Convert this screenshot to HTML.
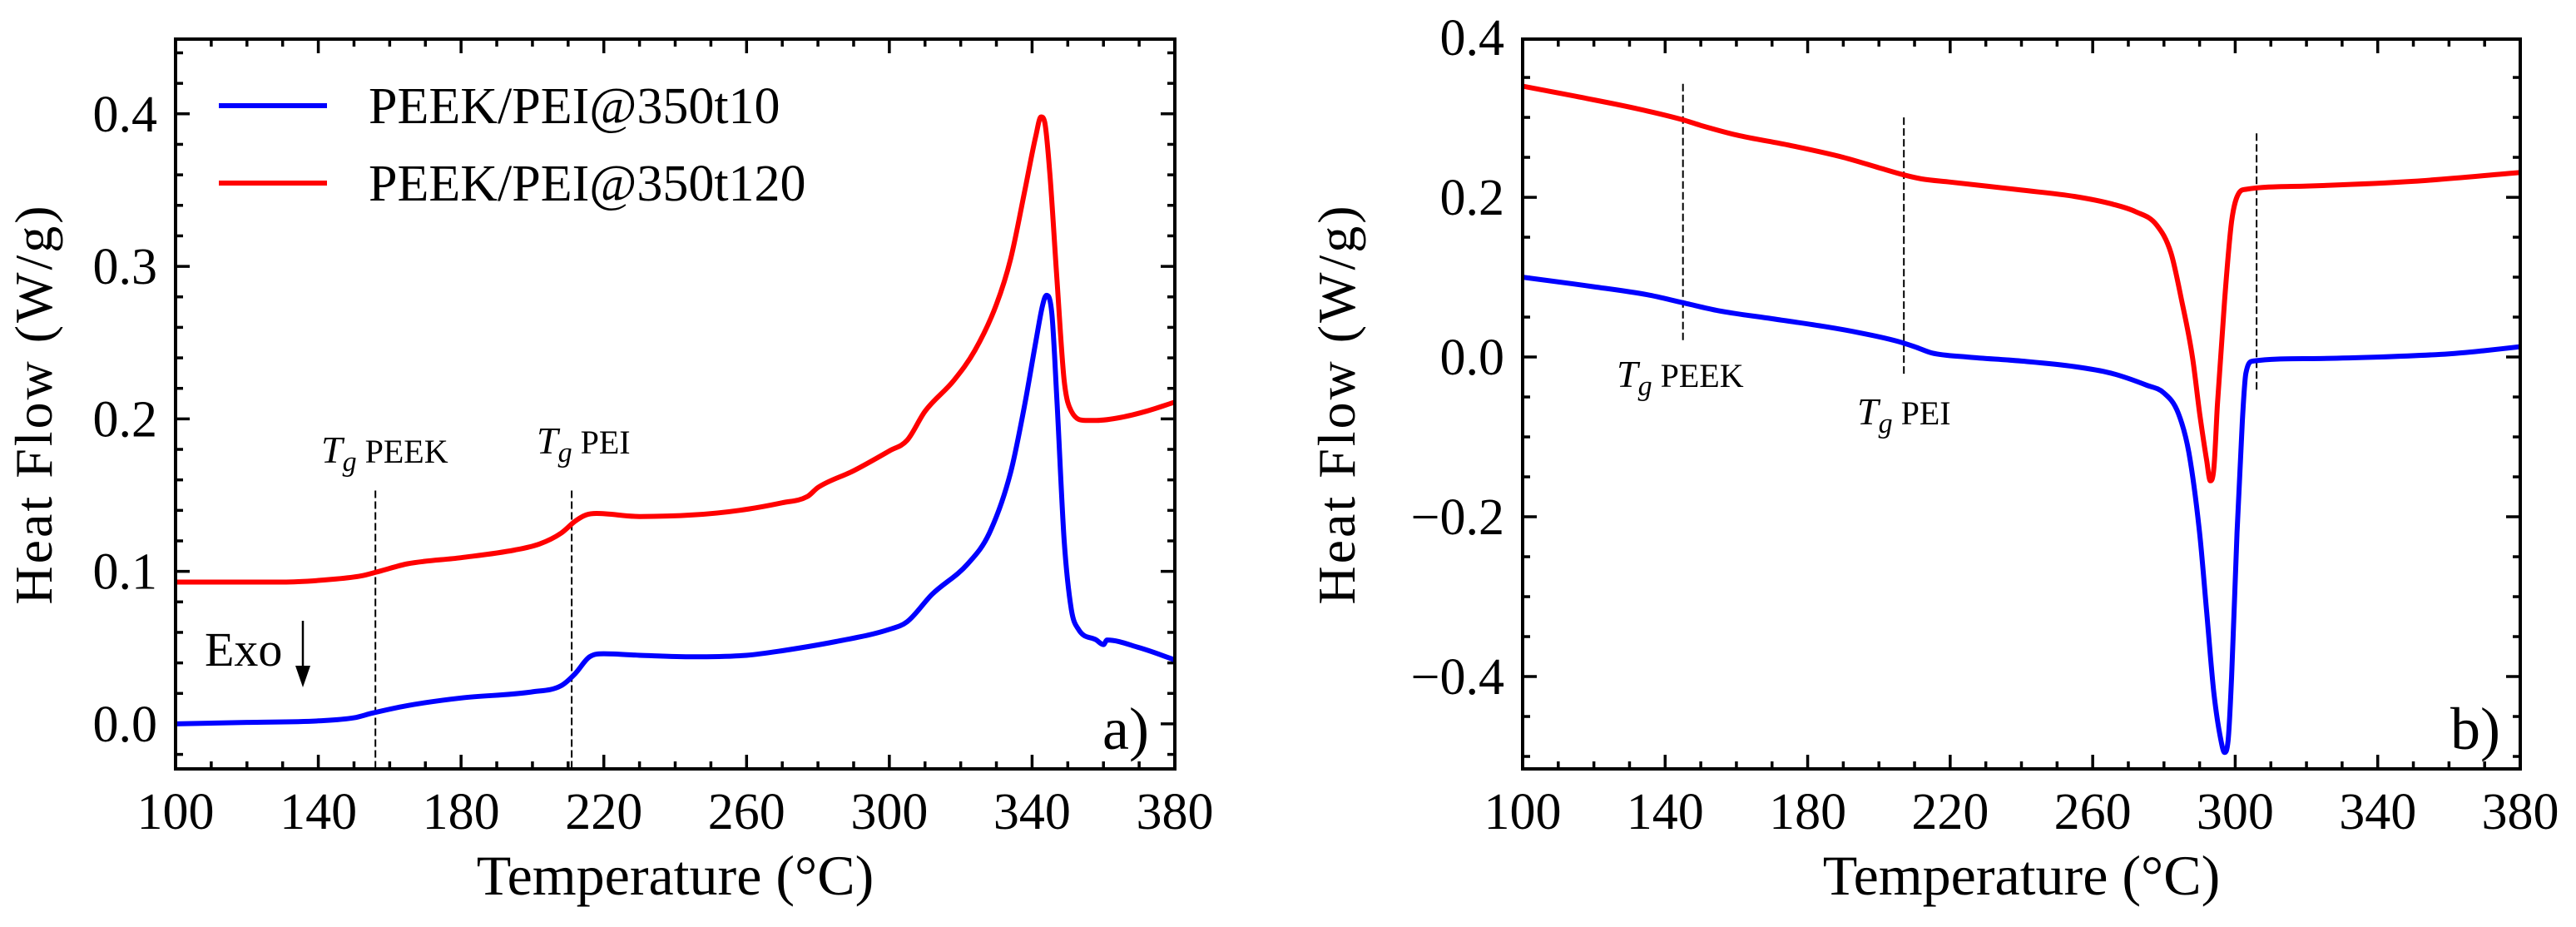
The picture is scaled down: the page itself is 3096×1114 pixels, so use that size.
<!DOCTYPE html>
<html><head><meta charset="utf-8"><style>
html,body{margin:0;padding:0;background:#fff;}
svg{display:block;font-family:"Liberation Serif",serif;}
</style></head><body>
<svg id="fig" width="3096" height="1114" viewBox="0 0 3096 1114" xmlns="http://www.w3.org/2000/svg"></svg>
<script>
// Panel a data
const aBlueT = [100,120,140,150,155,165,180,200,208,212,216,220,230,245,260,270,285,300,305,312,322,328,334,338,341,343,344,345.5,347,349,351,353,358,360,361,370,380];
const aBlueV = [0.0,0.001,0.002,0.004,0.007,0.012,0.017,0.021,0.025,0.033,0.044,0.046,0.045,0.044,0.045,0.048,0.054,0.062,0.067,0.085,0.105,0.125,0.165,0.21,0.25,0.275,0.281,0.27,0.21,0.12,0.075,0.062,0.055,0.052,0.055,0.05,0.042];
const aRedT = [100,130,145,152,157,165,180,195,202,208,212,215,218,230,245,258,270,277,280,290,300,305,310,318,324,330,334,338,341,342.5,343.5,345,347,349,351,355,358,365,372,380];
const aRedV = [0.093,0.093,0.095,0.097,0.100,0.105,0.109,0.114,0.118,0.125,0.133,0.137,0.138,0.136,0.137,0.140,0.145,0.149,0.155,0.166,0.179,0.186,0.205,0.225,0.245,0.275,0.305,0.35,0.385,0.398,0.395,0.36,0.29,0.225,0.205,0.199,0.199,0.201,0.205,0.211];
// Panel b data
const bRedT = [100,120,135,145,150,160,175,190,200,207,212,220,240,255,265,272,278,282,285,288,290,292,293,294,295,297,299,301,303,320,350,380];
const bRedV = [0.339,0.322,0.308,0.297,0.290,0.278,0.265,0.250,0.237,0.228,0.223,0.219,0.209,0.201,0.192,0.182,0.165,0.13,0.07,0.0,-0.07,-0.13,-0.155,-0.14,-0.06,0.07,0.17,0.205,0.21,0.214,0.22,0.231];
const bBlueT = [100,120,135,145,155,170,185,195,205,210,215,225,240,255,265,275,280,284,287,290,292,294,296,297,298,299,300.5,302,303,305,320,340,360,370,380];
const bBlueV = [0.100,0.088,0.078,0.068,0.058,0.048,0.038,0.030,0.020,0.013,0.005,0.0,-0.005,-0.012,-0.02,-0.035,-0.045,-0.07,-0.12,-0.22,-0.32,-0.42,-0.48,-0.495,-0.48,-0.40,-0.22,-0.08,-0.02,-0.005,-0.002,0.0,0.004,0.008,0.013];
const xTicks = [100,140,180,220,260,300,340,380];
const aYTicks = [0.0,0.1,0.2,0.3,0.4];
const bYTicks = [-0.4,-0.2,0.0,0.2,0.4];

const NS = "http://www.w3.org/2000/svg";
const svg = document.getElementById('fig');
function mk(tag, attrs, parent, text){
  const e = document.createElementNS(NS, tag);
  for (const k in attrs) e.setAttribute(k, attrs[k]);
  if (text !== undefined) e.textContent = text;
  (parent||svg).appendChild(e);
  return e;
}
function fmt(v){ const s = Math.abs(v).toFixed(1); return (v < -1e-9 ? '\u2212' : '') + s; }

// monotone cubic path through pixel points
function smoothPath(xs, ys){
  const n = xs.length, d = [], m = [];
  for (let i=0;i<n-1;i++) d.push((ys[i+1]-ys[i])/(xs[i+1]-xs[i]));
  m.push(d[0]);
  for (let i=1;i<n-1;i++) m.push(d[i-1]*d[i]<=0 ? 0 : (d[i-1]+d[i])/2);
  m.push(d[n-2]);
  for (let i=0;i<n-1;i++){
    if (d[i]===0){ m[i]=0; m[i+1]=0; continue; }
    const a=m[i]/d[i], b=m[i+1]/d[i], s=a*a+b*b;
    if (s>9){ const t=3/Math.sqrt(s); m[i]=t*a*d[i]; m[i+1]=t*b*d[i]; }
  }
  let p = 'M'+xs[0].toFixed(1)+','+ys[0].toFixed(1);
  for (let i=0;i<n-1;i++){
    const h=(xs[i+1]-xs[i])/3;
    p += ' C'+(xs[i]+h).toFixed(1)+','+(ys[i]+m[i]*h).toFixed(1)+' '+(xs[i+1]-h).toFixed(1)+','+(ys[i+1]-m[i+1]*h).toFixed(1)+' '+xs[i+1].toFixed(1)+','+ys[i+1].toFixed(1);
  }
  return p;
}

function panel(cfg){
  const g = mk('g', {});
  
  
  const L=cfg.L,R=cfg.R,T=cfg.T,B=cfg.B;
  const sx = t => L + (t-100)/(380-100)*(R-L);
  const sy = v => B - (v-cfg.ymin)/(cfg.ymax-cfg.ymin)*(B-T);
  const tk = mk('g', {stroke:'#000','stroke-width':3.5}, g);
  
  
  for (let t=100; t<=380; t+=10){
    const len = (t-100)%40===0 ? 17 : 9;
    const x = sx(t);
    mk('line',{x1:x,x2:x,y1:B,y2:B-len},tk);
    mk('line',{x1:x,x2:x,y1:T,y2:T+len},tk);
  }
  const start = Math.ceil(cfg.ymin/cfg.minor-1e-6)*cfg.minor;
  for (let v=start; v<=cfg.ymax+1e-9; v+=cfg.minor){
    const isMaj = cfg.yTicks.some(m=>Math.abs(m-v)<1e-6);
    const len = isMaj?17:9;
    const y = sy(v);
    mk('line',{x1:L,x2:L+len,y1:y,y2:y},tk);
    mk('line',{x1:R,x2:R-len,y1:y,y2:y},tk);
  }
  xTicks.forEach(t=>{
    const e = mk('text',{x:sx(t),y:B+72,'font-size':62,'text-anchor':'middle'},g,String(t));
    
    
  });
  cfg.yTicks.forEach(v=>{
    const e = mk('text',{x:L-22,y:sy(v)+21,'font-size':62,'text-anchor':'end'},g,fmt(v));
    
    
  });
  cfg.marks.forEach(m=>{
    const e = mk('line',{x1:sx(m[0]),x2:sx(m[0]),y1:sy(m[1]),y2:sy(m[2]),stroke:'#000','stroke-width':2,'stroke-dasharray':'9,4'},g);
    
    
  });
  cfg.series.forEach(s=>{
    const d = smoothPath(s.t.map(sx), s.v.map(sy));
    const p = mk('path',{d:d,fill:'none',stroke:s.color,'stroke-width':6,'stroke-linejoin':'round'},g);
    
    
  });
  const fr = mk('rect',{x:L,y:T,width:R-L,height:B-T,fill:'none',stroke:'#000','stroke-width':4},g);
  
  
  const xl = mk('text',{x:(L+R)/2,y:1075,'font-size':68,'text-anchor':'middle'},g,'Temperature (\u00B0C)');
  
  
  const yl = mk('text',{x:0,y:0,'font-size':64,'text-anchor':'middle',transform:`translate(${cfg.ylx},${(T+B)/2}) rotate(-90)`,'letter-spacing':3},g,'Heat Flow (W/g)');
  
  
  return {g,sx,sy};
}

function tgLabel(g, x, y, sub, name){
  const t = mk('text',{x:x,y:y,'font-size':46},g);
  
  
  mk('tspan',{'font-style':'italic'},t,'T');
  mk('tspan',{'font-style':'italic','font-size':34,dy:10},t,'g');
  mk('tspan',{dy:-10,'font-size':40},t,' '+sub);
}

const A = panel({name:'panel-a',L:211,R:1412,T:47,B:924,ymin:-0.0295,ymax:0.449,minor:0.02,yTicks:aYTicks,ylx:62,
  marks:[[156,0.153,-0.0295],[211,0.153,-0.0295]],
  series:[{t:aBlueT,v:aBlueV,color:'#0000ff',name:'series-peek-pei-350t10'},{t:aRedT,v:aRedV,color:'#ff0000',name:'series-peek-pei-350t120'}]});
tgLabel(A.g, 386, 556, 'PEEK', 'tg-peek-label');
tgLabel(A.g, 645, 545, 'PEI', 'tg-pei-label');
let e = mk('text',{x:246,y:800,'font-size':58},A.g,'Exo');
 
e = mk('line',{x1:364,x2:364,y1:746,y2:808,stroke:'#000','stroke-width':2.5},A.g);
 
e = mk('polygon',{points:'355,800 373,800 364,826',fill:'#000'},A.g);
 
e = mk('text',{x:1325,y:900,'font-size':72},A.g,'a)');
 
const lg = mk('g',{},A.g);
 
e = mk('line',{x1:263,x2:393,y1:127,y2:127,stroke:'#0000ff','stroke-width':6},lg);
 
e = mk('text',{x:443,y:148,'font-size':62},lg,'PEEK/PEI@350t10');
 
e = mk('line',{x1:263,x2:393,y1:220,y2:220,stroke:'#ff0000','stroke-width':6},lg);
 
e = mk('text',{x:443,y:241,'font-size':62},lg,'PEEK/PEI@350t120');
 

const Bp = panel({name:'panel-b',L:1830,R:3029,T:47,B:924,ymin:-0.5156,ymax:0.398,minor:0.05,yTicks:bYTicks,ylx:1628,
  marks:[[145,0.342,0.018],[207,0.30,-0.025],[306,0.28,-0.045]],
  series:[{t:bRedT,v:bRedV,color:'#ff0000',name:'series-peek-pei-350t120'},{t:bBlueT,v:bBlueV,color:'#0000ff',name:'series-peek-pei-350t10'}]});
tgLabel(Bp.g, 1943, 465, 'PEEK', 'tg-peek-label');
tgLabel(Bp.g, 2232, 510, 'PEI', 'tg-pei-label');
e = mk('text',{x:2945,y:900,'font-size':72},Bp.g,'b)');
 
</script>
</body></html>
